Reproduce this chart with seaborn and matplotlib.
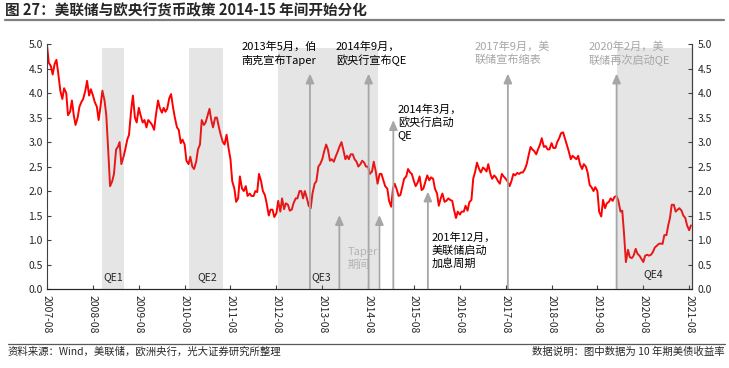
import numpy as np
import pandas as pd
import seaborn as sns
import matplotlib
matplotlib.use("Agg")
from matplotlib import pyplot as plt
from matplotlib.lines import Line2D

# 10 年期美债收益率, 每月 1 日 / 15 日读数
yld_2007 = [4.98, 4.62, 4.55, 4.38, 4.60, 4.68, 4.35, 4.05, 3.88, 4.10]
yld_2008 = [4.00, 3.55, 3.62, 3.85, 3.55, 3.35, 3.50, 3.72, 3.82, 3.88, 4.05, 4.25,
            3.95, 4.08, 3.95, 3.82, 3.72, 3.45, 3.75, 4.05, 3.85, 3.55, 2.80, 2.10]
yld_2009 = [2.20, 2.35, 2.85, 2.90, 3.00, 2.55, 2.70, 2.85, 3.05, 3.15, 3.65, 3.95,
            3.50, 3.40, 3.70, 3.55, 3.40, 3.45, 3.30, 3.45, 3.40, 3.35, 3.25, 3.55]
yld_2010 = [3.85, 3.70, 3.60, 3.70, 3.62, 3.68, 3.90, 3.98, 3.70, 3.50, 3.30, 3.25,
            2.98, 3.05, 2.95, 2.62, 2.55, 2.70, 2.50, 2.45, 2.60, 2.85, 2.95, 3.45]
yld_2011 = [3.35, 3.40, 3.55, 3.68, 3.45, 3.30, 3.50, 3.50, 3.30, 3.15, 3.00, 2.95,
            3.15, 2.90, 2.65, 2.20, 2.05, 1.78, 1.85, 2.30, 2.05, 2.00, 2.10, 1.90]
yld_2012 = [1.95, 1.90, 1.90, 2.00, 1.98, 2.35, 2.20, 2.00, 1.92, 1.75, 1.50, 1.62,
            1.62, 1.47, 1.55, 1.80, 1.58, 1.85, 1.63, 1.75, 1.72, 1.60, 1.62, 1.75]
yld_2013 = [1.85, 1.85, 2.00, 2.00, 1.85, 2.00, 1.85, 1.70, 1.65, 1.95, 2.15, 2.20,
            2.50, 2.55, 2.65, 2.80, 2.95, 2.85, 2.62, 2.65, 2.60, 2.70, 2.80, 2.90]
yld_2014 = [3.00, 2.85, 2.65, 2.72, 2.65, 2.75, 2.75, 2.65, 2.60, 2.50, 2.55, 2.62,
            2.58, 2.50, 2.50, 2.35, 2.40, 2.60, 2.40, 2.15, 2.35, 2.35, 2.22, 2.10]
yld_2015 = [2.05, 1.80, 1.68, 2.05, 2.15, 2.05, 1.90, 1.92, 2.10, 2.25, 2.30, 2.45,
            2.38, 2.35, 2.20, 2.10, 2.18, 2.30, 2.02, 2.05, 2.20, 2.32, 2.22, 2.28]
yld_2016 = [2.25, 2.05, 1.95, 1.70, 1.85, 1.95, 1.78, 1.80, 1.85, 1.82, 1.80, 1.62,
            1.45, 1.58, 1.52, 1.58, 1.58, 1.70, 1.60, 1.77, 1.82, 2.25, 2.40, 2.58]
yld_2017 = [2.45, 2.38, 2.48, 2.45, 2.40, 2.55, 2.35, 2.25, 2.32, 2.28, 2.20, 2.15,
            2.35, 2.30, 2.25, 2.20, 2.10, 2.20, 2.35, 2.32, 2.37, 2.35, 2.38, 2.38]
yld_2018 = [2.45, 2.55, 2.75, 2.90, 2.85, 2.82, 2.75, 2.85, 2.95, 3.08, 2.90, 2.92,
            2.85, 2.85, 2.98, 2.88, 2.88, 3.00, 3.08, 3.18, 3.20, 3.08, 2.95, 2.82]
yld_2019 = [2.65, 2.72, 2.68, 2.65, 2.72, 2.55, 2.45, 2.55, 2.50, 2.38, 2.12, 2.08,
            2.00, 2.08, 2.00, 1.58, 1.48, 1.82, 1.65, 1.75, 1.78, 1.85, 1.80, 1.88]
yld_2020 = [1.90, 1.80, 1.58, 1.60, 1.10, 0.55, 0.80, 0.65, 0.63, 0.68, 0.82, 0.72,
            0.68, 0.62, 0.55, 0.68, 0.70, 0.68, 0.70, 0.75, 0.85, 0.88, 0.92, 0.93]
yld_2021 = [0.92, 1.10, 1.10, 1.30, 1.45, 1.72, 1.72, 1.58, 1.62, 1.65, 1.60, 1.50,
            1.45, 1.30, 1.20, 1.30]

# QE 区间
qe_names = ["QE1", "QE2", "QE3", "QE4"]
qe_start = ["2008-10-12", "2010-09-04", "2012-08-12", "2020-01-01"]
qe_end = ["2009-04-04", "2011-06-01", "2014-10-17", "2021-08-22"]

# 事件箭头
evt_dates = ["2013-04-25", "2014-08-05", "2015-02-18", "2013-12-15", "2014-10-30",
             "2015-11-20", "2017-08-18", "2020-01-01"]
evt_tops = [4.40, 4.40, 3.45, 1.51, 1.51, 1.99, 4.40, 4.40]

yld = (yld_2007 + yld_2008 + yld_2009 + yld_2010 + yld_2011 + yld_2012 + yld_2013 +
       yld_2014 + yld_2015 + yld_2016 + yld_2017 + yld_2018 + yld_2019 + yld_2020 + yld_2021)
df = pd.DataFrame({"date": pd.date_range("2007-08-01", periods=len(yld), freq="SMS"),
                   "yield": yld})

sns.set_style("ticks")
plt.rcParams["font.family"] = ["Noto Sans CJK SC", "DejaVu Sans"]

fig = plt.figure(figsize=(7.29, 3.68), dpi=100)
ax = fig.add_axes([0.0645, 0.2147, 0.8845, 0.6653])
sns.lineplot(data=df, x="date", y="yield", color="#ff0000", lw=1.4, ax=ax)

for name, s, e in zip(qe_names, qe_start, qe_end):
    ax.axvspan(pd.Timestamp(s), pd.Timestamp(e), ymin=0, ymax=0.985,
               color="#808080", alpha=0.2, lw=0, zorder=3)

qe_lab_x = ["2009-01-05", "2011-02-01", "2013-07-25", "2020-10-17"]
qe_lab_y = [0.24, 0.24, 0.24, 0.31]
for name, x, y in zip(qe_names, qe_lab_x, qe_lab_y):
    ax.text(pd.Timestamp(x), y, name, ha="center", va="center", fontsize=7.5,
            color="#262626", zorder=5)

for d, top in zip(evt_dates, evt_tops):
    ax.annotate("", xy=(pd.Timestamp(d), top), xytext=(pd.Timestamp(d), 0),
                arrowprops=dict(arrowstyle="-|>,head_length=0.8,head_width=0.35",
                                color="#a6a6a6", lw=1.3, mutation_scale=7,
                                shrinkA=0, shrinkB=0), zorder=4)

notes = [
    ("2011-10-30", 5.06, "2013年5月，伯\n南克宣布Taper", "#000000"),
    ("2013-11-17", 5.06, "2014年9月，\n欧央行宣布QE", "#000000"),
    ("2015-03-25", 3.77, "2014年3月，\n欧央行启动\nQE", "#000000"),
    ("2015-12-17", 1.15, "201年12月，\n美联储启动\n加息周期", "#000000"),
    ("2016-11-28", 5.06, "2017年9月，美\n联储宣布缩表", "#a6a6a6"),
    ("2019-05-25", 5.06, "2020年2月，美\n联储再次启动QE", "#a6a6a6"),
    ("2014-02-22", 0.86, "Taper\n期间", "#b3b3b3"),
]
for x, y, s, c in notes:
    ax.text(pd.Timestamp(x), y, s, ha="left", va="top", fontsize=8, color=c,
            linespacing=1.25, zorder=6)

ax.set_xlim(pd.Timestamp("2007-08-01"), pd.Timestamp("2021-08-22"))
ax.set_ylim(0, 5)
xt = [pd.Timestamp(f"{y}-08-01") for y in range(2007, 2022)]
ax.set_xticks(xt)
ax.set_xticklabels([t.strftime("%Y-%m") for t in xt], rotation=-90, fontsize=7.5)
yt = np.arange(0, 5.01, 0.5)
ax.set_yticks(yt)
ax.set_yticklabels([f"{v:.1f}" for v in yt], fontsize=7.5)
ax.set_xlabel("")
ax.set_ylabel("")
ax.tick_params(direction="in", length=3, width=0.8, color="#404040", pad=3)
ax.tick_params(axis="x", pad=4)
ax.spines["top"].set_visible(False)
for sp in ["left", "bottom", "right"]:
    ax.spines[sp].set_color("#404040")
    ax.spines[sp].set_linewidth(0.8)

ax2 = ax.twinx()
ax2.set_ylim(0, 5)
ax2.set_yticks(yt)
ax2.set_yticklabels([f"{v:.1f}" for v in yt], fontsize=7.5)
ax2.tick_params(direction="in", length=3, width=0.8, color="#404040", pad=4)
ax2.spines["top"].set_visible(False)
ax2.spines["left"].set_visible(False)
ax2.spines["right"].set_color("#404040")
ax2.spines["right"].set_linewidth(0.8)

fig.text(5 / 729, 1 - 10 / 368, "图 27：美联储与欧央行货币政策 2014-15 年间开始分化",
         fontsize=10.5, fontweight="bold", ha="left", va="center")
fig.add_artist(Line2D([5 / 729, 724 / 729], [1 - 19.5 / 368, 1 - 19.5 / 368],
                      color="#7f7f7f", lw=1.6, transform=fig.transFigure))
fig.add_artist(Line2D([8 / 729, 725 / 729], [1 - 343.5 / 368, 1 - 343.5 / 368],
                      color="#595959", lw=0.9, transform=fig.transFigure))
fig.text(8 / 729, 1 - 352 / 368, "资料来源：Wind，美联储，欧洲央行，光大证券研究所整理",
         fontsize=7.5, ha="left", va="center")
fig.text(725 / 729, 1 - 352 / 368, "数据说明：图中数据为 10 年期美债收益率",
         fontsize=7.5, ha="right", va="center")

fig.savefig("out.png", dpi=100)
